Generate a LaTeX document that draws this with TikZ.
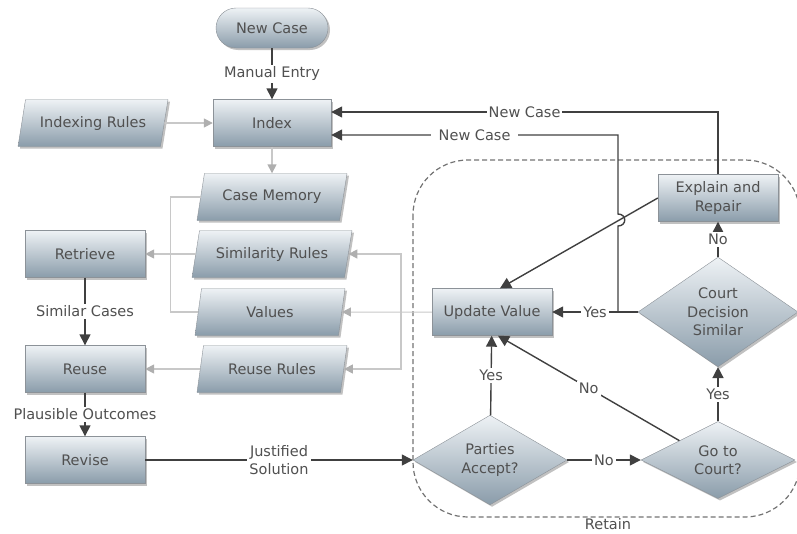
\documentclass[tikz,border=0pt]{standalone}
\usepackage{fontspec}
\setmainfont{DejaVu Sans}
\usetikzlibrary{arrows.meta,shapes.geometric,shadows}

\definecolor{boxtop}{RGB}{238,242,245}
\definecolor{boxbot}{RGB}{138,156,170}
\definecolor{boxline}{RGB}{140,146,152}
\definecolor{inktext}{RGB}{80,80,80}
\definecolor{darkline}{RGB}{64,64,64}
\definecolor{lightline}{RGB}{200,200,200}
\definecolor{lighttip}{RGB}{175,175,175}
\definecolor{retainline}{RGB}{115,115,115}
\newcommand{\chartfont}{\fontsize{14.5}{18.5}\selectfont}

\begin{document}
\begin{tikzpicture}[x=1pt,y=-1pt,
		boxbase/.style={draw=boxline, top color=boxtop, bottom color=boxbot, text=inktext,
			font=\chartfont, align=center,
			drop shadow={shadow xshift=2pt, shadow yshift=-2pt, opacity=0.35, fill=black!70}},
		startbox/.style={boxbase, rectangle, rounded corners=20pt, minimum width=112pt, minimum height=40pt},
		procbox/.style={boxbase, rectangle, minimum width=120pt, minimum height=47pt},
		databox/.style={boxbase, trapezium, trapezium left angle=70, trapezium right angle=110,
			trapezium stretches body, minimum width=150pt, minimum height=47pt},
		choice/.style={boxbase, diamond, inner sep=0pt},
		flow/.style={draw=darkline, line width=1.4pt, -{Triangle[length=11pt,width=11pt]}},
		feed/.style={draw=lightline, line width=1.6pt, -{Triangle[length=9pt,width=9pt,color=lighttip]}},
		memline/.style={draw=lightline, line width=1.6pt},
		lbl/.style={fill=white, text=inktext, font=\chartfont, align=center, inner sep=2pt}]
	\useasboundingbox (0,0) rectangle (797,533);

	\node[startbox] (newcase) at (272,28) {New Case};
	\node[procbox, minimum width=118pt] (index) at (272,123) {Index};
	\node[databox] (indexrules) at (93,123) {Indexing Rules};

	\node[databox] (casemem) at (272,197) {Case Memory};
	\node[databox, minimum width=160pt] (simrules) at (272,254) {Similarity Rules};
	\node[databox] (values) at (270,312) {Values};
	\node[databox] (reuserules) at (272,369) {Reuse Rules};

	\node[procbox] (retrieve) at (85,254) {Retrieve};
	\node[procbox] (reuse) at (85,369) {Reuse};
	\node[procbox] (revise) at (85,460) {Revise};

	\draw[draw=retainline, line width=1.2pt, dash pattern=on 5pt off 3pt, rounded corners=55pt]
		(413,160) rectangle (800,517);
	\node[lbl, fill=none, inner sep=0pt] (retain) at (608,524) {Retain};

	\node[procbox] (update) at (492,312) {Update Value};
	\node[procbox] (explain) at (718,198) {Explain and\\Repair};
	\node[choice, minimum width=154pt, minimum height=76pt] (accept) at (490,460) {Parties\\Accept?};
	\node[choice, minimum width=154pt, minimum height=76pt] (gocourt) at (718,460) {Go to\\Court?};
	\node[choice, minimum width=160pt, minimum height=100pt] (similar) at (718,312) {Court\\Decision\\Similar};

	\draw[flow] (newcase) -- node[lbl] {Manual Entry} (index);
	\draw[feed] (indexrules) -- (index);
	\draw[feed] (index) -- (casemem);
	\draw[feed] (simrules) -- (retrieve);
	\draw[feed] (reuserules) -- (reuse);
	\draw[memline] (casemem.west) -- ++(-30,0) |- (values.west);

	\draw[flow] (retrieve) -- node[lbl] {Similar Cases} (reuse);
	\draw[flow] (reuse) -- node[lbl] {Plausible Outcomes} (revise);
	\draw[flow] (revise) -- node[lbl] {Justified\\Solution} (accept);

	\draw[flow] (accept) -- node[lbl] {Yes} (update);
	\draw[flow] (accept) -- node[lbl] {No} (gocourt);
	\draw[flow] (gocourt.north west) -- node[lbl] {No} ([xshift=6pt]update.south);
	\draw[flow] (gocourt) -- node[lbl] {Yes} (similar);
	\draw[flow] (similar) -- node[lbl] {No} (explain);
	\draw[flow] (similar.west) -- node[lbl] {Yes} (update.east);
	\draw[flow] (explain.west) -- ([xshift=8pt]update.north);

	\draw[flow] (explain.north) |- node[lbl, pos=0.75] {New Case} ([yshift=11pt]index.east);
	\coordinate (split) at (618,312);
	\draw[flow] (split) -- (618,226) .. controls (627,226) and (627,214) .. (618,214) -- (618,135)
		-- node[lbl, inner xsep=8pt] {New Case} ([yshift=-12pt]index.east);

	\draw[feed, line width=1pt] (update) -- (values);
	\coordinate (bus) at (401,312);
	\draw[feed] (bus) |- (simrules.east);
	\draw[feed] (bus) |- (reuserules.east);
\end{tikzpicture}
\end{document}
